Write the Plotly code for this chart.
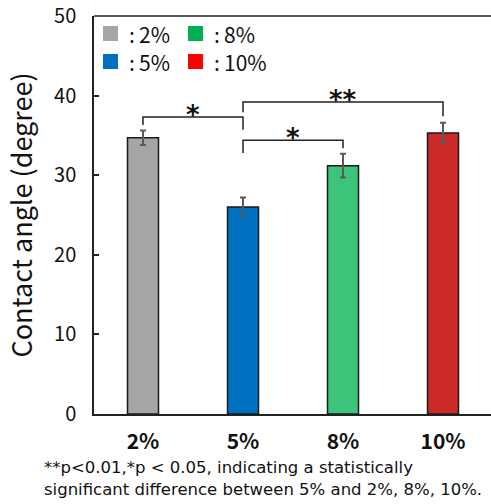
import plotly.graph_objects as go

categories = ["2%", "5%", "8%", "10%"]
values = [34.7, 26.0, 31.2, 35.3]
errors = [0.9, 1.2, 1.5, 1.3]
bar_colors = ["#A5A5A5", "#0070C0", "#3CC47A", "#CC2929"]

legend_labels = [":2%", ":8%", ":5%", ":10%"]
legend_colors = ["#A6A6A6", "#00B050", "#0070C0", "#FF0000"]

# significance brackets: (left index, right index, bar height, left drop, right drop, label)
brackets = [
    (0, 1, 37.3, 36.3, 35.7, "*"),
    (1, 3, 39.2, 37.9, 37.4, "**"),
    (1, 2, 34.4, 32.8, 33.4, "*"),
]

y_ticks = [0, 10, 20, 30, 40, 50]
y_title = "Contact angle (degree)"
footnote_lines = [
    "**p&lt;0.01,*p &lt; 0.05, indicating a statistically",
    "significant difference between 5% and 2%, 8%, 10%.",
]

FONT = "Noto Sans CJK JP, Noto Sans, sans-serif"
FOOT_FONT = "DejaVu Sans, sans-serif"

fig = go.Figure()
fig.add_trace(go.Bar(
    x=categories, y=values, width=0.31,
    marker=dict(color=bar_colors, line=dict(color="#1a1a1a", width=1.5)),
    error_y=dict(type="data", array=errors, color="#5a5a5a", thickness=2, width=3),
    showlegend=False,
))

shapes = []
annotations = []
for li, ri, h, ld, rd, lab in brackets:
    shapes.append(dict(type="path", xref="x", yref="y",
                       path=f"M {li},{ld} L {li},{h} L {ri},{h} L {ri},{rd}",
                       line=dict(color="#222222", width=1.5)))
    annotations.append(dict(x=(li + ri) / 2, y=h, xref="x", yref="y", text=f"<b>{lab}</b>",
                            showarrow=False, yanchor="middle", yshift=2,
                            font=dict(size=26, color="#111", family="DejaVu Sans, sans-serif")))

# top frame line
shapes.append(dict(type="line", xref="paper", yref="paper", x0=0, x1=1, y0=1, y1=1,
                   line=dict(color="#222", width=1.5)))

# manual legend (paper coordinates derived from plot area px)
W, H = 491, 504
ml, mr, mt, mb = 94, 0, 16, 90
pw, ph = W - ml - mr, H - mt - mb
def px2paper(px, py):
    return (px - ml) / pw, (H - mb - py) / ph

legend_pos = [(103, 26), (188, 26), (103, 54), (188, 54)]
for (lx, ly), lab, col in zip(legend_pos, legend_labels, legend_colors):
    x0, y0 = px2paper(lx, ly)
    x1, y1 = px2paper(lx + 15, ly + 15)
    shapes.append(dict(type="rect", xref="paper", yref="paper", x0=x0, x1=x1, y0=y1, y1=y0,
                       fillcolor=col, line=dict(width=0)))
    tx, ty = px2paper(lx + 24, ly + 8)
    annotations.append(dict(x=tx, y=ty, xref="paper", yref="paper", text=lab.replace(":", ":\u2009"),
                            showarrow=False, xanchor="left", yanchor="middle",
                            font=dict(size=21, color="#111", family=FONT)))

for i, line in enumerate(footnote_lines):
    fx, fy = px2paper(42, 467 + 22 * i)
    annotations.append(dict(x=fx, y=fy, xref="paper", yref="paper", text=line, showarrow=False,
                            xanchor="left", yanchor="middle", align="left",
                            font=dict(size=16.5, color="#111", family=FOOT_FONT)))

fig.update_layout(
    width=W, height=H,
    margin=dict(l=ml, r=mr, t=mt, b=mb),
    paper_bgcolor="white", plot_bgcolor="white",
    shapes=shapes, annotations=annotations,
    xaxis=dict(range=[-0.49, 3.48], showline=True, linecolor="#222", linewidth=1.5,
               ticks="", showgrid=False, zeroline=False,
               tickfont=dict(size=21, color="#111", family=FONT),
               ticklabelstandoff=8,
               tickvals=list(range(len(categories))), ticktext=[f"<b>{c}</b>" for c in categories]),
    yaxis=dict(range=[0, 50], tickvals=y_ticks, showline=True, linecolor="#222", linewidth=1.5,
               ticks="inside", ticklen=5, tickcolor="#222", tickwidth=1.5,
               showgrid=False, zeroline=False,
               tickfont=dict(size=20, color="#111", family=FONT),
               ticklabelstandoff=12,
               title=dict(text=y_title, font=dict(size=27, color="#111", family=FONT), standoff=14)),
)

fig.write_html("out.html")
